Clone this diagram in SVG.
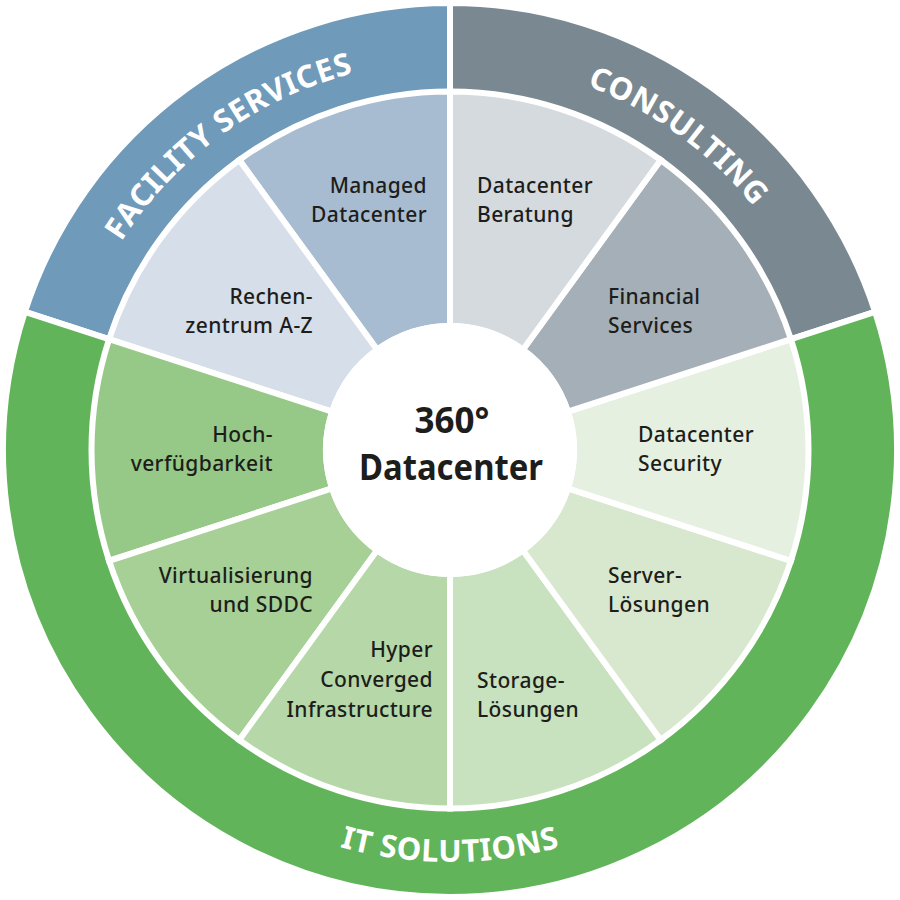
<svg xmlns="http://www.w3.org/2000/svg" width="900" height="900" viewBox="0 0 900 900">
<style>
.sec{stroke:#ffffff;stroke-width:6;stroke-linejoin:miter}
.lbl{font-family:"Noto Sans","Liberation Sans",sans-serif;font-size:21px;font-weight:500;letter-spacing:0.4px;fill:#1d1d1b}
.r{text-anchor:end}
.ring{font-family:"Noto Sans","Liberation Sans",sans-serif;font-size:31px;font-weight:bold;fill:#ffffff;letter-spacing:0.5px}
.ctr{font-family:"Noto Sans","Liberation Sans",sans-serif;font-size:35px;font-weight:bold;fill:#1d1d1b;text-anchor:middle}
</style>
<defs>
<path id="arcFac" d="M 80.04 329.79 A 389 389 0 0 1 450 61"/>
<path id="arcCon" d="M 450 61 A 389 389 0 0 1 819.96 329.79"/>
<path id="arcIT" d="M 158.67 741.33 A 412 412 0 0 0 741.33 741.33"/>
</defs>
<rect width="900" height="900" fill="#ffffff"/>
<g id="connectors"></g>
<g id="ring-facility-services">
<path class="sec" fill="#6f9aba" d="M 450 3 A 447 447 0 0 0 24.88 311.87 L 110.47 339.68 A 357 357 0 0 1 450 93 Z"/>
<text class="ring"><textPath href="#arcFac" startOffset="50%" text-anchor="middle">FACILITY SERVICES</textPath></text>
</g>
<g id="ring-consulting">
<path class="sec" fill="#7a8991" d="M 875.12 311.87 A 447 447 0 0 0 450 3 L 450 93 A 357 357 0 0 1 789.53 339.68 Z"/>
<text class="ring"><textPath href="#arcCon" startOffset="50%" text-anchor="middle">CONSULTING</textPath></text>
</g>
<g id="ring-it-solutions">
<path class="sec" fill="#62b45a" d="M 24.88 311.87 A 447 447 0 1 0 875.12 311.87 L 789.53 339.68 A 357 357 0 1 1 110.47 339.68 Z"/>
<text class="ring"><textPath href="#arcIT" startOffset="50%" text-anchor="middle">IT SOLUTIONS</textPath></text>
</g>
<g id="managed-datacenter">
<path class="sec" fill="#a8bcd1" d="M 450 91.5 A 358.5 358.5 0 0 0 239.28 159.97 L 377.11 349.68 A 124 124 0 0 1 450 326 Z"/>
<text class="lbl r" x="427" y="193">Managed</text>
<text class="lbl r" x="427" y="222">Datacenter</text>
</g>
<g id="rechenzentrum">
<path class="sec" fill="#d5dee9" d="M 239.28 159.97 A 358.5 358.5 0 0 0 109.05 339.22 L 332.07 411.68 A 124 124 0 0 1 377.11 349.68 Z"/>
<text class="lbl r" x="313" y="304">Rechen-</text>
<text class="lbl r" x="313" y="333">zentrum A-Z</text>
</g>
<g id="hochverfuegbarkeit">
<path class="sec" fill="#96c887" d="M 109.05 339.22 A 358.5 358.5 0 0 0 109.05 560.78 L 332.07 488.32 A 124 124 0 0 1 332.07 411.68 Z"/>
<text class="lbl r" x="273" y="442">Hoch-</text>
<text class="lbl r" x="273" y="471">verfügbarkeit</text>
</g>
<g id="virtualisierung">
<path class="sec" fill="#a6d096" d="M 109.05 560.78 A 358.5 358.5 0 0 0 239.28 740.03 L 377.11 550.32 A 124 124 0 0 1 332.07 488.32 Z"/>
<text class="lbl r" x="313" y="583">Virtualisierung</text>
<text class="lbl r" x="313" y="612">und SDDC</text>
</g>
<g id="hyper-converged">
<path class="sec" fill="#b6d8a8" d="M 239.28 740.03 A 358.5 358.5 0 0 0 450 808.5 L 450 574 A 124 124 0 0 1 377.11 550.32 Z"/>
<text class="lbl r" x="433" y="657">Hyper</text>
<text class="lbl r" x="433" y="687">Converged</text>
<text class="lbl r" x="433" y="717">Infrastructure</text>
</g>
<g id="storage-loesungen">
<path class="sec" fill="#c8e1be" d="M 450 808.5 A 358.5 358.5 0 0 0 660.72 740.03 L 522.89 550.32 A 124 124 0 0 1 450 574 Z"/>
<text class="lbl" x="477" y="688">Storage-</text>
<text class="lbl" x="477" y="717">Lösungen</text>
</g>
<g id="server-loesungen">
<path class="sec" fill="#d8e8ce" d="M 660.72 740.03 A 358.5 358.5 0 0 0 790.95 560.78 L 567.93 488.32 A 124 124 0 0 1 522.89 550.32 Z"/>
<text class="lbl" x="608" y="583">Server-</text>
<text class="lbl" x="608" y="612">Lösungen</text>
</g>
<g id="datacenter-security">
<path class="sec" fill="#e6f0e0" d="M 790.95 560.78 A 358.5 358.5 0 0 0 790.95 339.22 L 567.93 411.68 A 124 124 0 0 1 567.93 488.32 Z"/>
<text class="lbl" x="638" y="442">Datacenter</text>
<text class="lbl" x="638" y="471">Security</text>
</g>
<g id="financial-services">
<path class="sec" fill="#a5afb7" d="M 790.95 339.22 A 358.5 358.5 0 0 0 660.72 159.97 L 522.89 349.68 A 124 124 0 0 1 567.93 411.68 Z"/>
<text class="lbl" x="608" y="304">Financial</text>
<text class="lbl" x="608" y="333">Services</text>
</g>
<g id="datacenter-beratung">
<path class="sec" fill="#d4dade" d="M 660.72 159.97 A 358.5 358.5 0 0 0 450 91.5 L 450 326 A 124 124 0 0 1 522.89 349.68 Z"/>
<text class="lbl" x="477" y="193">Datacenter</text>
<text class="lbl" x="477" y="222">Beratung</text>
</g>
<g id="center">
<circle cx="450" cy="450" r="127" fill="#ffffff"/>
<text class="ctr" x="452" y="433">360°</text>
<text class="ctr" x="451" y="480" textLength="184" lengthAdjust="spacingAndGlyphs">Datacenter</text>
</g>
</svg>
